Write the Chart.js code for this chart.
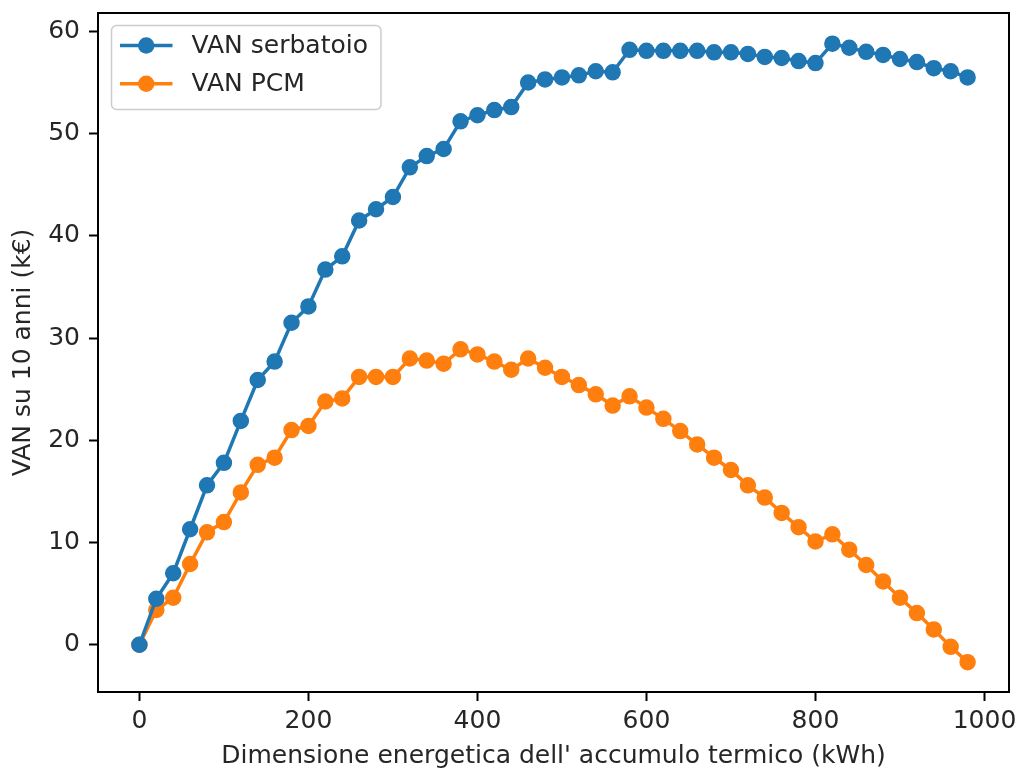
<!DOCTYPE html>
<html>
<head>
<meta charset="utf-8">
<script src="https://cdn.jsdelivr.net/npm/chart.js@4.4.1/dist/chart.umd.min.js"></script>
<style>
  body { margin: 0; background: #fff; }
  canvas { display: block; }
</style>
</head>
<body>
<canvas id="chart" width="1018" height="769"></canvas>
<script>
const sizes = [0, 20, 40, 60, 80, 100, 120, 140, 160, 180,
  200, 220, 240, 260, 280, 300, 320, 340, 360, 380,
  400, 420, 440, 460, 480, 500, 520, 540, 560, 580,
  600, 620, 640, 660, 680, 700, 720, 740, 760, 780,
  800, 820, 840, 860, 880, 900, 920, 940, 960, 980];

const vanSerbatoio = [0, 4.5, 7.0, 11.3, 15.6, 17.8, 21.9, 25.9, 27.7, 31.5,
  33.1, 36.7, 38.0, 41.5, 42.6, 43.8, 46.7, 47.8, 48.5, 51.2,
  51.8, 52.3, 52.6, 55.0, 55.3, 55.5, 55.7, 56.1, 56.0, 58.2,
  58.1, 58.1, 58.1, 58.1, 57.95, 57.95, 57.8, 57.5, 57.4, 57.1,
  56.9, 58.8, 58.4, 58.0, 57.7, 57.3, 57.0, 56.4, 56.1, 55.5];

const vanPCM = [0, 3.4, 4.6, 7.9, 11.0, 12.0, 14.9, 17.6, 18.3, 21.0,
  21.4, 23.8, 24.1, 26.2, 26.2, 26.2, 28.0, 27.8, 27.5, 28.9,
  28.4, 27.7, 26.9, 28.0, 27.1, 26.2, 25.4, 24.5, 23.4, 24.3,
  23.2, 22.1, 20.9, 19.6, 18.3, 17.1, 15.6, 14.4, 12.9, 11.5,
  10.1, 10.8, 9.3, 7.8, 6.2, 4.6, 3.1, 1.5, -0.2, -1.7];

const seriesNames = ["VAN serbatoio", "VAN PCM"];
const seriesColors = ["#1f77b4", "#ff7f0e"];
const xTicks = [0, 200, 400, 600, 800, 1000];
const yTicks = [0, 10, 20, 30, 40, 50, 60];

const FONT = "DejaVu Sans";
const textColor = "#262626";

const toPoints = (ys) => sizes.map((x, i) => ({ x: x, y: ys[i] }));

const makeSet = (label, values, color) => ({
  label: label,
  data: toPoints(values),
  borderColor: color,
  backgroundColor: color,
  borderWidth: 3.5,
  pointRadius: 7.5,
  pointBorderWidth: 1.5,
  pointHoverRadius: 7.5,
  tension: 0,
});

// matplotlib style box around the axes
const frame = {
  id: "frame",
  afterDatasetsDraw(chart) {
    const { ctx, chartArea: a } = chart;
    ctx.save();
    ctx.strokeStyle = "#000";
    ctx.lineWidth = 2;
    ctx.strokeRect(a.left, a.top, a.right - a.left, a.bottom - a.top);
    ctx.restore();
  },
};

// legend drawn inside the upper left corner, like plt.legend()
const boxLegend = {
  id: "boxLegend",
  afterDraw(chart) {
    const { ctx, chartArea: a } = chart;
    const sets = chart.data.datasets;
    ctx.save();
    ctx.font = "25px '" + FONT + "'";
    let maxW = 0;
    sets.forEach((s) => { maxW = Math.max(maxW, ctx.measureText(s.label).width); });
    const x0 = a.left + 13.5, y0 = a.top + 12.5;
    const w = 80 + maxW + 13, h = 84;
    ctx.beginPath();
    ctx.roundRect(x0, y0, w, h, 5);
    ctx.fillStyle = "rgba(255,255,255,0.8)";
    ctx.fill();
    ctx.strokeStyle = "#cccccc";
    ctx.lineWidth = 1.5;
    ctx.stroke();
    sets.forEach((s, i) => {
      const y = y0 + 20 + i * 38.3;
      ctx.strokeStyle = s.borderColor;
      ctx.lineWidth = 3.5;
      ctx.beginPath();
      ctx.moveTo(x0 + 8.5, y);
      ctx.lineTo(x0 + 61, y);
      ctx.stroke();
      ctx.fillStyle = s.backgroundColor;
      ctx.beginPath();
      ctx.arc(x0 + 34.7, y, 8.2, 0, Math.PI * 2);
      ctx.fill();
      ctx.fillStyle = textColor;
      ctx.textBaseline = "middle";
      ctx.textAlign = "left";
      ctx.fillText(s.label, x0 + 80, y + 1);
    });
    ctx.restore();
  },
};

const chart = new Chart(document.getElementById("chart"), {
  type: "line",
  data: {
    datasets: [
      makeSet(seriesNames[0], vanSerbatoio, seriesColors[0]),
      makeSet(seriesNames[1], vanPCM, seriesColors[1]),
    ],
  },
  plugins: [frame, boxLegend],
  options: {
    responsive: false,
    animation: false,
    layout: { padding: { top: 13, right: 8, left: 0, bottom: 0 } },
    plugins: {
      legend: { display: false },
      tooltip: { enabled: false },
    },
    scales: {
      x: {
        type: "linear",
        min: -49,
        max: 1029,
        afterBuildTicks: (s) => { s.ticks = xTicks.map((v) => ({ value: v })); },
        afterFit: (s) => { s.height = 77; s.paddingLeft = 0; s.paddingRight = 0; },
        border: { display: false },
        grid: { drawOnChartArea: false, drawTicks: true, tickLength: 9, tickWidth: 2, tickColor: "#000" },
        ticks: {
          padding: 8, color: textColor, maxRotation: 0,
          font: { family: FONT, size: 25, lineHeight: 1 },
          callback: (v) => String(v),
        },
        title: {
          display: true,
          text: "Dimensione energetica dell' accumulo termico (kWh)",
          color: textColor,
          font: { family: FONT, size: 25, lineHeight: 1 },
          padding: { top: 0, bottom: 0 },
        },
      },
      y: {
        type: "linear",
        min: -4.62,
        max: 61.8,
        afterBuildTicks: (s) => { s.ticks = yTicks.map((v) => ({ value: v })); },
        afterFit: (s) => { s.width = 98; s.paddingTop = 0; s.paddingBottom = 0; },
        border: { display: false },
        grid: { drawOnChartArea: false, drawTicks: true, tickLength: 9, tickWidth: 2, tickColor: "#000" },
        ticks: {
          padding: 9, color: textColor,
          font: { family: FONT, size: 25, lineHeight: 1 },
          callback: (v) => String(v),
        },
        title: {
          display: true,
          text: "VAN su 10 anni (k€)",
          color: textColor,
          font: { family: FONT, size: 25, lineHeight: 1 },
          padding: { top: 11, bottom: 0 },
        },
      },
    },
  },
});
</script>
</body>
</html>
